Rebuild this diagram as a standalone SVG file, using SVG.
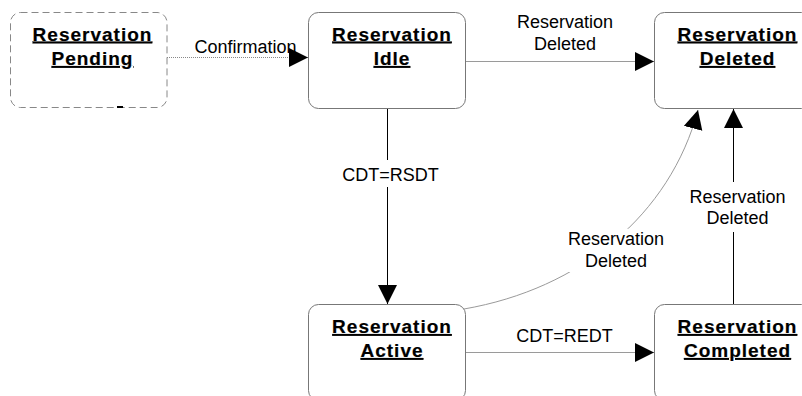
<svg xmlns="http://www.w3.org/2000/svg" width="802" height="396" viewBox="0 0 802 396">
<defs>
<style>
.box{fill:#fff;stroke:#777;stroke-width:1}
.pend{fill:#fff;stroke:#888;stroke-width:1;stroke-dasharray:7,4}
.title{font-family:"Liberation Sans",Arial,sans-serif;font-size:19px;font-weight:bold;text-anchor:middle;letter-spacing:1px;text-decoration:underline;fill:#000;stroke:#000;stroke-width:0.2}
.lbl{font-family:"Liberation Sans",Arial,sans-serif;font-size:18px;text-anchor:middle;fill:#000}
.gray{fill:none;stroke:#9a9a9a;stroke-width:1}
.blk{fill:none;stroke:#000;stroke-width:1}
.dot{fill:none;stroke:#888;stroke-width:1;stroke-dasharray:1,1}
.bg{fill:#fff;stroke:none}
</style>
<marker id="arr" markerUnits="userSpaceOnUse" markerWidth="20" markerHeight="20" refX="19" refY="9.5" orient="auto" viewBox="0 0 20 20">
<path d="M0,0 L19,9.5 L0,19 Z" fill="#000"/>
</marker>
</defs>
<rect width="802" height="396" fill="#fff"/>
<g id="connectors">
<path class="dot" d="M167,57.5 H308" marker-end="url(#arr)"/>
<path class="gray" d="M466,61.5 H654" marker-end="url(#arr)"/>
<path class="blk" d="M387.5,109 V304" marker-end="url(#arr)"/>
<path class="gray" d="M465,352.5 H654" marker-end="url(#arr)"/>
<path class="blk" d="M733.5,304 V109" marker-end="url(#arr)"/>
<path class="gray" d="M464,309 C580,289 670,215 698,110" marker-end="url(#arr)"/>
<rect class="bg" x="340" y="160" width="100" height="27"/>
<rect class="bg" x="686" y="182" width="103" height="50"/>
<rect class="bg" x="565" y="229" width="103" height="43"/>
<text class="lbl" x="245.5" y="53">Confirmation</text>
<text class="lbl" x="565" y="28">Reservation</text>
<text class="lbl" x="565" y="50">Deleted</text>
<text class="lbl" x="390.5" y="181">CDT=RSDT</text>
<text class="lbl" x="564.5" y="341.5">CDT=REDT</text>
<text class="lbl" x="737.5" y="202.5">Reservation</text>
<text class="lbl" x="737.5" y="224">Deleted</text>
<text class="lbl" x="616" y="245">Reservation</text>
<text class="lbl" x="616" y="266.5">Deleted</text>
</g>
<g id="pending">
<rect class="pend" x="10.5" y="12.5" width="156.5" height="95" rx="10"/>
<rect x="117" y="106" width="6" height="2" fill="#000"/>
<text class="title" x="92.5" y="40.5">Reservation</text>
<text class="title" x="92.5" y="65">Pending</text>
</g>
<g id="idle">
<rect class="box" x="308.5" y="12.5" width="157" height="96" rx="10"/>
<text class="title" x="392" y="40.5">Reservation</text>
<text class="title" x="392" y="65">Idle</text>
</g>
<g id="deleted">
<rect class="box" x="654.5" y="12.5" width="157" height="96" rx="10"/>
<text class="title" x="737.5" y="40.5">Reservation</text>
<text class="title" x="737.5" y="65">Deleted</text>
</g>
<g id="active">
<rect class="box" x="308.5" y="304.5" width="157" height="96" rx="10"/>
<text class="title" x="392" y="333">Reservation</text>
<text class="title" x="392" y="357">Active</text>
</g>
<g id="completed">
<rect class="box" x="654.5" y="304.5" width="157" height="96" rx="10"/>
<text class="title" x="737.5" y="333">Reservation</text>
<text class="title" x="737.5" y="357">Completed</text>
</g>
</svg>
